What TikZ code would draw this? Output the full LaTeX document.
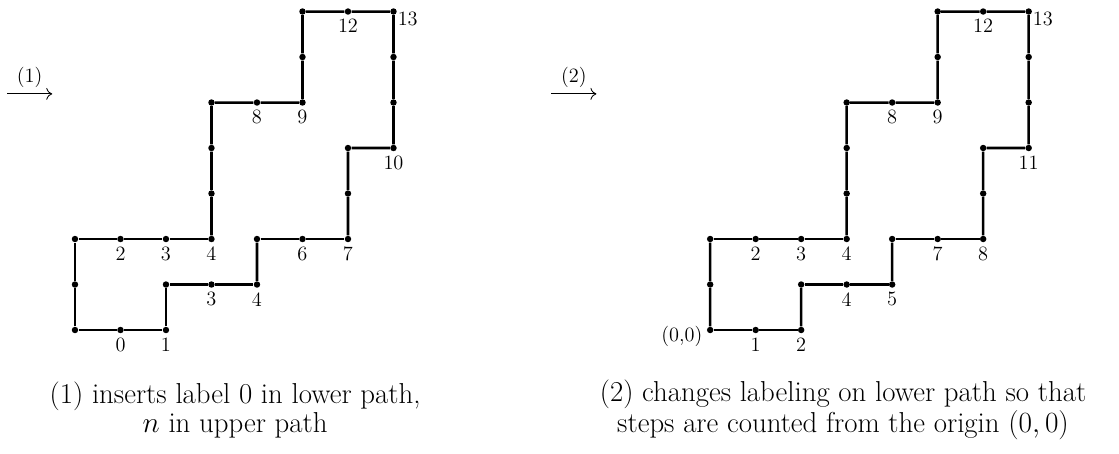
\documentclass[tikz,border=0pt]{standalone}
\usetikzlibrary{positioning,arrows.meta}

\begin{document}
\begin{tikzpicture}[scale=0.943, font=\large]
  \useasboundingbox (-1.648,-2.703) rectangle (22.945,7.253);

  % Lattice points of both paths
  \foreach \d/\s in {a/0,b/13.96} {
    \foreach \x/\y [count=\i from 0] in {0/0,1/0,2/0,2/1,3/1,4/1,4/2,5/2,6/2,6/3,6/4,7/4,7/5,7/6,7/7}
      \node[circle, fill=black, inner sep=0pt, minimum size=3.8pt] (\d-l\i) at (\s+\x,\y) {};
    \foreach \x/\y [count=\i from 1] in {0/1,0/2,1/2,2/2,3/2,3/3,3/4,3/5,4/5,5/5,5/6,5/7,6/7}
      \node[circle, fill=black, inner sep=0pt, minimum size=3.8pt] (\d-u\i) at (\s+\x,\y) {};

    % Lower path
    \foreach \i [remember=\i as \j (initially 0)] in {1,...,14}
      \draw[line width=1.5pt] (\d-l\j) -- (\d-l\i);

    % Upper path
    \draw[line width=1.5pt] (\d-l0) -- (\d-u1);
    \foreach \i [remember=\i as \j (initially 1)] in {2,...,13}
      \draw[line width=1.5pt] (\d-u\j) -- (\d-u\i);
    \draw[line width=1.5pt] (\d-u13) -- (\d-l14);

    % Labels on upper path
    \node[below=-1pt of \d-u3] (\d-t2) {2};
    \node[below=-1pt of \d-u4] (\d-t3) {3};
    \node[below=-1pt of \d-u5] (\d-t4) {4};
    \node[below=-1pt of \d-u9] (\d-t8) {8};
    \node[below=-1pt of \d-u10] (\d-t9) {9};
    \node[below=-1pt of \d-u13] (\d-t12) {12};
    \node[below right=-4.5pt and -2.5pt of \d-l14] (\d-t13) {13};
  }

  % Labels on lower path, before step (1)
  \node[below=-1pt of a-l1] (a-s0) {0};
  \node[below=-1pt of a-l2] (a-s1) {1};
  \node[below=-1pt of a-l4] (a-s3) {3};
  \node[below=-1pt of a-l5] (a-s4) {4};
  \node[below=-1pt of a-l7] (a-s6) {6};
  \node[below=-1pt of a-l8] (a-s7) {7};
  \node[below=-1pt of a-l11] (a-s10) {10};

  % Labels on lower path, after step (2)
  \node[left=-1pt of b-l0, yshift=-4pt] (b-o) {(0,0)};
  \node[below=-1pt of b-l1] (b-s1) {1};
  \node[below=-1pt of b-l2] (b-s2) {2};
  \node[below=-1pt of b-l4] (b-s4) {4};
  \node[below=-1pt of b-l5] (b-s5) {5};
  \node[below=-1pt of b-l7] (b-s7) {7};
  \node[below=-1pt of b-l8] (b-s8) {8};
  \node[below=-1pt of b-l11] (b-s11) {11};

  % Step arrows
  \coordinate (a-from) at (-1.49,5.19);
  \coordinate (a-to) at (-0.5,5.19);
  \draw[-{To[length=3.5pt,width=7pt]}, line width=0.5pt] (a-from) -- node[above] (a-step) {$(1)$} (a-to);
  \coordinate (b-from) at (10.47,5.19);
  \coordinate (b-to) at (11.46,5.19);
  \draw[-{To[length=3.5pt,width=7pt]}, line width=0.5pt] (b-from) -- node[above] (b-step) {$(2)$} (b-to);

  % Captions
  \node[align=center, font=\fontsize{17}{14.7}\selectfont] (a-cap) at (3.52,-1.76) {(1) inserts label 0 in lower path,\\ $n$ in upper path};
  \node[align=center, font=\fontsize{17}{14.7}\selectfont] (b-cap) at (16.88,-1.76) {(2) changes labeling on lower path so that\\ steps are counted from the origin $(0,0)$};
\end{tikzpicture}
\end{document}
